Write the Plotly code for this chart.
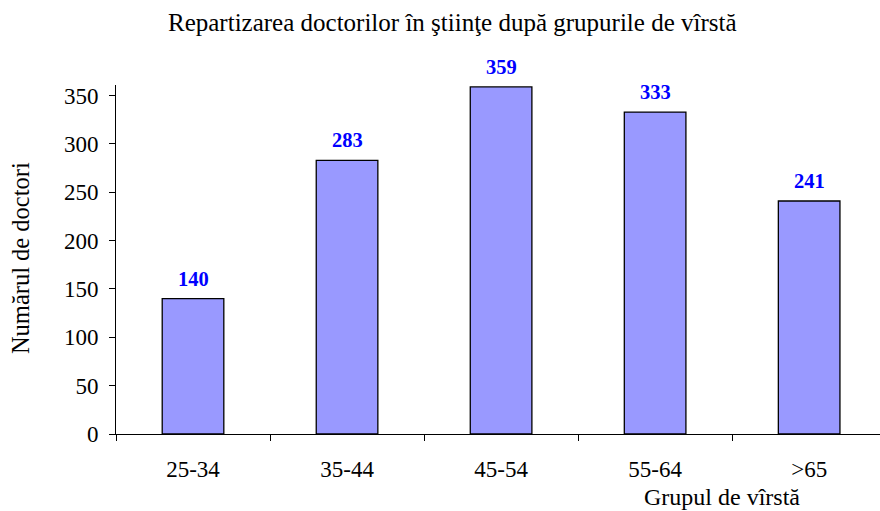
import plotly.graph_objects as go

categories = ["25-34", "35-44", "45-54", "55-64", ">65"]
values = [140, 283, 359, 333, 241]
y_ticks = [0, 50, 100, 150, 200, 250, 300, 350]

title_text = "Repartizarea doctorilor în ştiinţe după grupurile de vîrstă"
x_title = "Grupul de vîrstă"
y_title = "Numărul de doctori"

FONT = "Liberation Serif"

fig = go.Figure()
fig.add_trace(go.Bar(
    x=categories, y=values, width=0.4,
    marker=dict(color="#9999FF", line=dict(color="black", width=1.3)),
    hoverinfo="x+y",
))

for c, v in zip(categories, values):
    fig.add_annotation(x=c, y=v, text=f"<b>{v}</b>", showarrow=False,
                       yanchor="bottom", yshift=7,
                       font=dict(family=FONT, size=20.5, color="#0000FF"))

fig.add_annotation(xref="paper", yref="paper", x=0.441, y=1, yshift=63,
                   text=title_text, showarrow=False, xanchor="center", yanchor="middle",
                   font=dict(family=FONT, size=25, color="black"))
fig.add_annotation(xref="paper", yref="paper", x=0.793, y=0, yshift=-63,
                   text=x_title, showarrow=False, xanchor="center", yanchor="middle",
                   font=dict(family=FONT, size=24, color="black"))
fig.add_annotation(xref="paper", yref="paper", x=0, xshift=-96, y=0.504,
                   text=y_title, showarrow=False, textangle=-90,
                   xanchor="center", yanchor="middle",
                   font=dict(family=FONT, size=24.5, color="black"))

fig.update_layout(
    width=880, height=511,
    margin=dict(l=116, r=0, t=85, b=77),
    paper_bgcolor="white", plot_bgcolor="white",
    showlegend=False,
    font=dict(family=FONT, size=23, color="black"),
    xaxis=dict(
        type="category", range=[-0.5, 4.46],
        showline=True, linecolor="black", linewidth=1,
        ticks="outside", tickson="boundaries", ticklen=6, tickcolor="black",
        ticklabelstandoff=14,
        showgrid=False, zeroline=False, fixedrange=True,
        tickfont=dict(family=FONT, size=23, color="black"),
    ),
    yaxis=dict(
        range=[0, 361], tickvals=y_ticks,
        showline=True, linecolor="black", linewidth=1,
        ticks="outside", ticklen=6, tickcolor="black",
        ticklabelstandoff=6,
        showgrid=False, zeroline=False, fixedrange=True,
        tickfont=dict(family=FONT, size=23, color="black"),
    ),
)

fig.write_html("out.html", config={"displayModeBar": False},
               post_script="document.body.style.margin='0';")
